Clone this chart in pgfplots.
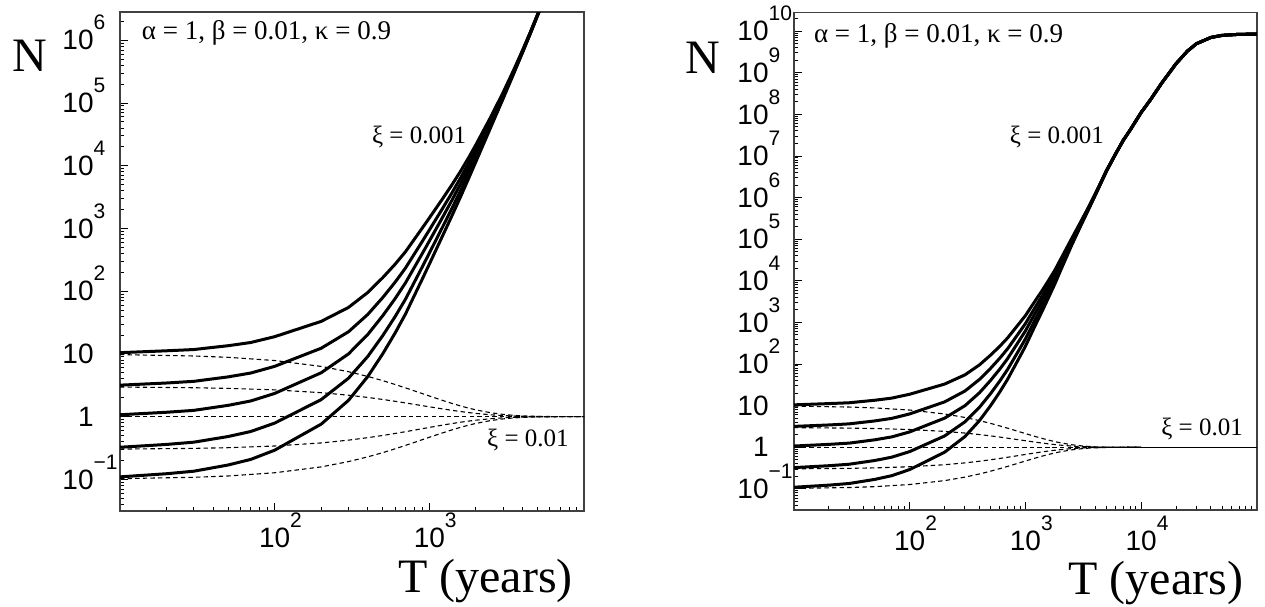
\documentclass[border=0pt]{standalone}
\usepackage{fontspec}
\setmainfont{Liberation Serif}
\newfontfamily\tickfont{Liberation Sans}
\usepackage{pgfplots}
\usepackage{pgfplotstable}
\pgfplotsset{compat=1.18}

% tick labels: ROOT-like "10^n", superscript sticks out to the right
\newcommand{\tlab}[1]{{\tickfont\fontsize{14}{14}\selectfont #1}}
\newcommand{\expo}[1]{\rlap{\smash{\raisebox{10pt}{\tickfont\fontsize{10.5}{10.5}\selectfont #1}}}}

% xi = 0.001 runs, left panel (N0 = 10, 3, 1, 0.3, 0.1)
\pgfplotstableread{
T s1 s2 s3 s4 s5
10 10.47 3.177 1.072 0.325 0.1096
20 11.22 3.44 1.175 0.3606 0.1230
30 11.75 3.656 1.259 0.3917 0.1349
50 13.52 4.305 1.514 0.4819 0.1694
70 15.21 4.955 1.778 0.5794 0.2080
100 18.84 6.339 2.344 0.7889 0.2917
200 33.04 12.33 5.012 1.871 0.7603
300 55.08 22.54 10 4.093 1.816
400 95.5 42.66 20.42 9.12 4.365
500 164.8 79.43 40.74 19.63 10.07
600 268.5 138.7 75.86 39.17 21.43
700 423.6 232.8 134.9 74.13 42.95
800 674.5 392.6 239.9 139.6 85.3
900 1016 622.3 398.1 243.8 156
1000 1472 946.2 631 405.5 270.4
1200 2825 1968 1413 984 706.3
1400 4977 3698 2818 2094 1596
1600 8356 6546 5248 4111 3296
1800 13650 11190 9333 7656 6383
2000 21630 18370 15850 13460 11610
2500 60530 54830 50120 45400 41500
3000 147900 139300 131800 124200 117500
3500 331100 319200 309000 297800 288400
4000 688700 674500 660700 647100 633900
4500 1.352e6 1.334e6 1.318e6 1.300e6 1.285e6
5000 2.553e6 2.529e6 2.512e6 2.489e6 2.472e6
5500 4.406e6 4.39e6 4.37e6 4.35e6 4.33e6
6000 7.24e6 7.23e6 7.22e6 7.21e6 7.20e6
}\leftsolid

% xi = 0.001 runs, right panel (saturating)
\pgfplotstableread{
T r1 r2 r3 r4 r5
10 10.47 3.177 1.072 0.325 0.1096
20 11.22 3.44 1.175 0.3606 0.1230
30 11.75 3.656 1.259 0.3917 0.1349
50 13.52 4.305 1.514 0.4819 0.1694
70 15.21 4.955 1.778 0.5794 0.2080
100 18.84 6.339 2.344 0.7889 0.2917
200 33.04 12.33 5.012 1.871 0.7603
300 55.08 22.54 10 4.093 1.816
400 95.5 42.66 20.42 9.12 4.365
500 164.8 79.43 40.74 19.63 10.07
600 268.5 138.7 75.86 39.17 21.43
700 423.6 232.8 134.9 74.13 42.95
800 674.5 392.6 239.9 139.6 85.3
900 1016 622.3 398.1 243.8 156
1000 1472 946.2 631 405.5 270.4
1200 3170 2208 1585 1104 792.5
1400 5984 4446 3388 2518 1919
1600 10770 8433 6761 5297 4246
1800 18410 15100 12590 10330 8610
2000 31990 27160 23440 19910 17180
2500 102800 93110 85110 77090 70470
3000 263000 247700 234400 220800 208900
3500 588800 567500 549500 529700 512900
4000 1.225e6 1.199e6 1.175e6 1.151e6 1.127e6
4500 2.404e6 2.371e6 2.344e6 2.312e6 2.286e6
5000 4.436e6 4.395e6 4.365e6 4.325e6 4.295e6
6000 1.123e7 1.122e7 1.122e7 1.121e7 1.120e7
7000 2.399e7 2.399e7 2.399e7 2.399e7 2.399e7
8000 4.169e7 4.169e7 4.169e7 4.169e7 4.169e7
10000 1.122e8 1.122e8 1.122e8 1.122e8 1.122e8
12000 2.239e8 2.239e8 2.239e8 2.239e8 2.239e8
15000 5.623e8 5.623e8 5.623e8 5.623e8 5.623e8
20000 1.660e9 1.660e9 1.660e9 1.660e9 1.660e9
25000 3.311e9 3.311e9 3.311e9 3.311e9 3.311e9
30000 5.012e9 5.012e9 5.012e9 5.012e9 5.012e9
40000 7.079e9 7.079e9 7.079e9 7.079e9 7.079e9
50000 7.943e9 7.943e9 7.943e9 7.943e9 7.943e9
70000 8.414e9 8.414e9 8.414e9 8.414e9 8.414e9
100000 8.511e9 8.511e9 8.511e9 8.511e9 8.511e9
}\rightsolid

% xi = 0.01 runs (both panels)
\pgfplotstableread{
T d1 d2 d3 d4 d5
10 9.75 2.965 1 0.3041 0.1026
30 9.27 2.891 1 0.3119 0.1079
50 8.83 2.825 1 0.3199 0.1132
100 7.85 2.673 1 0.3404 0.1274
200 6.32 2.410 1 0.3811 0.1581
300 5.21 2.198 1 0.4217 0.1919
400 4.375 2.023 1 0.4624 0.2286
500 3.75 1.879 1 0.5012 0.2667
600 3.258 1.758 1 0.5395 0.3069
700 2.877 1.656 1 0.5754 0.3475
800 2.576 1.570 1 0.6095 0.3882
1000 2.133 1.435 1 0.6730 0.4688
1200 1.837 1.337 1 0.7278 0.5445
1400 1.626 1.262 1 0.7762 0.6152
1600 1.476 1.204 1 0.8157 0.6776
1800 1.365 1.160 1 0.8500 0.7328
2000 1.282 1.126 1 0.8776 0.7798
2500 1.153 1.070 1 0.9279 0.8670
3000 1.086 1.040 1 0.9579 0.9204
3500 1.048 1.023 1 0.9757 0.9539
4000 1.027 1.013 1 0.9858 0.9732
5000 1.009 1.004 1 0.9954 0.9911
7000 1.001 1.000 1 0.9995 0.9991
10000 1 1 1 1 1
}\dashedruns

\tikzset{
  ann/.style={anchor=base west, font=\fontsize{12.5}{12.5}\selectfont},
  par/.style={anchor=base west, font=\fontsize{13.5}{13.5}\selectfont},
  thickrun/.style={black, line width=1.5pt, line join=round},
  thinrun/.style={black, line width=0.55pt, dash pattern=on 2.2pt off 1.6pt},
}

\begin{document}
\begin{tikzpicture}
\useasboundingbox (0,0) rectangle (632.5pt,303pt);

\begin{axis}[
  scale only axis, xmode=log, ymode=log,
  clip mode=individual,
  tick align=inside, tick pos=left,
  major tick length=4pt, minor tick length=1.8pt,
  axis line style={black!75, line width=0.75pt},
  tick style={black, line width=0.5pt},
  at={(60pt,47.5pt)}, anchor=south west,
  width=232pt, height=249.5pt,
  xmin=10, xmax=10000, ymin=0.0313, ymax=2.83e6,
  xtick={100,1000},
  xticklabels={\tlab{10\expo{2}}, \tlab{10\expo{3}}},
  xticklabel style={anchor=north, inner sep=0pt, yshift=-8.5pt},
  minor xtick={20,30,40,50,60,70,80,90,200,300,400,500,600,700,800,900,2000,3000,4000,5000,6000,7000,8000,9000},
  ytick={0.1,1,10,100,1000,1e4,1e5,1e6},
  yticklabels={\tlab{10\expo{−1}\hspace{4.5pt}}, \tlab{1\hspace{1pt}}, \tlab{10}, \tlab{10\expo{2}}, \tlab{10\expo{3}}, \tlab{10\expo{4}}, \tlab{10\expo{5}}, \tlab{10\expo{6}}},
  yticklabel style={anchor=east, inner sep=0pt, xshift=-13pt},
  minor ytick={0.04,0.05,0.06,0.07,0.08,0.09,0.2,0.3,0.4,0.5,0.6,0.7,0.8,0.9,2,3,4,5,6,7,8,9,20,30,40,50,60,70,80,90,200,300,400,500,600,700,800,900,2000,3000,4000,5000,6000,7000,8000,9000,2e4,3e4,4e4,5e4,6e4,7e4,8e4,9e4,2e5,3e5,4e5,5e5,6e5,7e5,8e5,9e5,2e6},
  xlabel={T (years)}, ylabel={N},
  xlabel style={at={(axis description cs:0.991,-0.164)}, anchor=base east, font=\fontsize{24}{24}\selectfont},
  ylabel style={rotate=-90, at={(axis description cs:-0.195,0.912)}, anchor=center, font=\fontsize{24}{24}\selectfont},
]
\addplot[thinrun] table[x=T, y=d1] {\dashedruns};
\addplot[thinrun] table[x=T, y=d2] {\dashedruns};
\addplot[thinrun] table[x=T, y=d3] {\dashedruns};
\addplot[thinrun] table[x=T, y=d4] {\dashedruns};
\addplot[thinrun] table[x=T, y=d5] {\dashedruns};
\addplot[thickrun] table[x=T, y=s1] {\leftsolid};
\addplot[thickrun] table[x=T, y=s2] {\leftsolid};
\addplot[thickrun] table[x=T, y=s3] {\leftsolid};
\addplot[thickrun] table[x=T, y=s4] {\leftsolid};
\addplot[thickrun] table[x=T, y=s5] {\leftsolid};
\node[par] at (axis description cs:0.032,0.944) {α = 1, β = 0.01, κ = 0.9};
\node[ann] at (axis description cs:0.528,0.737) {ξ = 0.001};
\node[ann] at (axis description cs:0.776,0.130) {ξ = 0.01};
\end{axis}

\begin{axis}[
  scale only axis, xmode=log, ymode=log,
  clip mode=individual,
  tick align=inside, tick pos=left,
  major tick length=4pt, minor tick length=1.8pt,
  axis line style={black!75, line width=0.75pt},
  tick style={black, line width=0.5pt},
  at={(397pt,48pt)}, anchor=south west,
  width=231.5pt, height=248.7pt,
  xmin=10, xmax=1e5, ymin=0.0311, ymax=2.8e10,
  xtick={100,1000,10000},
  xticklabels={\tlab{10\expo{2}}, \tlab{10\expo{3}}, \tlab{10\expo{4}}},
  xticklabel style={anchor=north, inner sep=0pt, yshift=-10.5pt},
  minor xtick={20,30,40,50,60,70,80,90,200,300,400,500,600,700,800,900,2000,3000,4000,5000,6000,7000,8000,9000,2e4,3e4,4e4,5e4,6e4,7e4,8e4,9e4},
  ytick={0.1,1,10,100,1000,1e4,1e5,1e6,1e7,1e8,1e9,1e10},
  yticklabels={\tlab{10\expo{−1}\hspace{4.5pt}}, \tlab{1\hspace{3pt}}, \tlab{10}, \tlab{10\expo{2}\hspace{4.5pt}}, \tlab{10\expo{3}\hspace{4.5pt}}, \tlab{10\expo{4}\hspace{4.5pt}}, \tlab{10\expo{5}\hspace{4.5pt}}, \tlab{10\expo{6}\hspace{4.5pt}}, \tlab{10\expo{7}\hspace{4.5pt}}, \tlab{10\expo{8}\hspace{4.5pt}}, \tlab{10\expo{9}\hspace{4.5pt}}, \tlab{10\expo{10}\hspace{4.5pt}}},
  yticklabel style={anchor=east, inner sep=0pt, xshift=-12.5pt},
  minor ytick={0.04,0.05,0.06,0.07,0.08,0.09,0.2,0.3,0.4,0.5,0.6,0.7,0.8,0.9,2,3,4,5,6,7,8,9,20,30,40,50,60,70,80,90,200,300,400,500,600,700,800,900,2000,3000,4000,5000,6000,7000,8000,9000,2e4,3e4,4e4,5e4,6e4,7e4,8e4,9e4,2e5,3e5,4e5,5e5,6e5,7e5,8e5,9e5,2e6,3e6,4e6,5e6,6e6,7e6,8e6,9e6,2e7,3e7,4e7,5e7,6e7,7e7,8e7,9e7,2e8,3e8,4e8,5e8,6e8,7e8,8e8,9e8,2e9,3e9,4e9,5e9,6e9,7e9,8e9,9e9,2e10},
  xlabel={T (years)}, ylabel={N},
  xlabel style={at={(axis description cs:0.985,-0.170)}, anchor=base east, font=\fontsize{24}{24}\selectfont},
  ylabel style={rotate=-90, at={(axis description cs:-0.197,0.909)}, anchor=center, font=\fontsize{24}{24}\selectfont},
]
\addplot[thinrun] table[x=T, y=d1] {\dashedruns};
\addplot[thinrun] table[x=T, y=d2] {\dashedruns};
\addplot[thinrun] table[x=T, y=d3] {\dashedruns};
\addplot[thinrun] table[x=T, y=d4] {\dashedruns};
\addplot[thinrun] table[x=T, y=d5] {\dashedruns};
% merged runs continue as one line
\addplot[black, line width=0.6pt] coordinates {(3500,1) (1e5,1)};
\addplot[thickrun] table[x=T, y=r1] {\rightsolid};
\addplot[thickrun] table[x=T, y=r2] {\rightsolid};
\addplot[thickrun] table[x=T, y=r3] {\rightsolid};
\addplot[thickrun] table[x=T, y=r4] {\rightsolid};
\addplot[thickrun] table[x=T, y=r5] {\rightsolid};
\node[par] at (axis description cs:0.028,0.940) {α = 1, β = 0.01, κ = 0.9};
\node[ann] at (axis description cs:0.451,0.737) {ξ = 0.001};
\node[ann] at (axis description cs:0.778,0.149) {ξ = 0.01};
\end{axis}
\end{tikzpicture}
\end{document}
